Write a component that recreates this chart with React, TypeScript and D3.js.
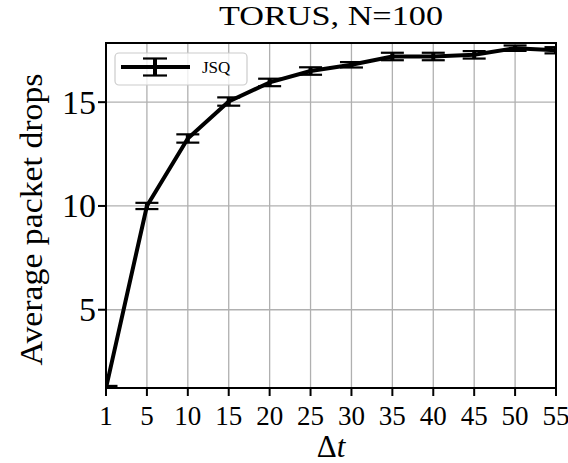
import React from "react";
import * as d3 from "d3";

const xLabels = ["1", "5", "10", "15", "20", "25", "30", "35", "40", "45", "50", "55"];
const jsqValues = [1.23, 10.0, 13.25, 15.03, 15.95, 16.5, 16.8, 17.2, 17.2, 17.28, 17.6, 17.5];
const jsqErrors = [0.1, 0.15, 0.2, 0.2, 0.18, 0.18, 0.13, 0.18, 0.18, 0.18, 0.13, 0.15];
const yTicks = [5, 10, 15];
const yDomain = [1.23, 17.85];
const title = "TORUS, N=100";
const yLabel = "Average packet drops";
const seriesName = "JSQ";

const W = 568, H = 463;
const L = 106, R = 556, T = 43, B = 388;
const FONT = "'Liberation Serif', 'DejaVu Serif', serif";

export default function App() {
  const x = d3.scalePoint<string>().domain(xLabels).range([L, R]).padding(0);
  const y = d3.scaleLinear().domain(yDomain).range([B, T]);
  const pts = xLabels.map((l, i) => ({ l, v: jsqValues[i], e: jsqErrors[i] }));
  const line = d3.line<{ l: string; v: number }>().x(d => x(d.l)!).y(d => y(d.v));
  const cap = 11.5;
  return (
    <svg width={W} height={H} style={{ position: "absolute", left: 0, top: 0, background: "#fff" }} fontFamily={FONT}>
      <defs>
        <clipPath id="ax"><rect x={L} y={T} width={R - L} height={B - T} /></clipPath>
      </defs>
      <rect x={0} y={0} width={W} height={H} fill="#fff" />
      {/* grid */}
      <g stroke="#b0b0b0" strokeWidth={1.3}>
        {xLabels.map(l => <line key={l} x1={x(l)} x2={x(l)} y1={T} y2={B} />)}
        {yTicks.map(t => <line key={t} x1={L} x2={R} y1={y(t)} y2={y(t)} />)}
      </g>
      {/* data */}
      <g clipPath="url(#ax)">
        <path d={line(pts)!} fill="none" stroke="#000" strokeWidth={4} strokeLinejoin="round" />
        {pts.map(p => {
          const cx = x(p.l)!;
          return (
            <g key={p.l} stroke="#000">
              <line x1={cx} x2={cx} y1={y(p.v - p.e)} y2={y(p.v + p.e)} strokeWidth={4} />
              <line x1={cx - cap} x2={cx + cap} y1={y(p.v - p.e)} y2={y(p.v - p.e)} strokeWidth={2.2} />
              <line x1={cx - cap} x2={cx + cap} y1={y(p.v + p.e)} y2={y(p.v + p.e)} strokeWidth={2.2} />
            </g>
          );
        })}
      </g>
      {/* axes frame */}
      <rect x={L} y={T} width={R - L} height={B - T} fill="none" stroke="#000" strokeWidth={2} />
      {/* x ticks */}
      {xLabels.map(l => (
        <g key={l}>
          <line x1={x(l)} x2={x(l)} y1={B} y2={B + 8} stroke="#000" strokeWidth={2} />
          <text x={x(l)} y={B + 37} textAnchor="middle" fontSize={27}>{l}</text>
        </g>
      ))}
      {/* y ticks */}
      {yTicks.map(t => (
        <g key={t}>
          <line x1={L - 8} x2={L} y1={y(t)} y2={y(t)} stroke="#000" strokeWidth={2} />
          <text x={L - 10} y={y(t) + 11.5} textAnchor="end" fontSize={34}>{t}</text>
        </g>
      ))}
      {/* labels */}
      <text x={(L + R) / 2} y={25} textAnchor="middle" fontSize={28} textLength={224} lengthAdjust="spacingAndGlyphs">{title}</text>
      <text transform={`translate(42, ${(T + B) / 2 + 4}) rotate(-90)`} textAnchor="middle" fontSize={31} textLength={292} lengthAdjust="spacingAndGlyphs">{yLabel}</text>
      <text x={(L + R) / 2} y={457} textAnchor="middle" fontSize={31}>Δ<tspan fontStyle="italic">t</tspan></text>
      {/* legend */}
      <g>
        <rect x={115} y={53} width={132} height={32} rx={4} fill="#fff" fillOpacity={0.8} stroke="#cccccc" strokeWidth={1.2} />
        <line x1={121} x2={190} y1={67} y2={67} stroke="#000" strokeWidth={4} />
        <line x1={155} x2={155} y1={58.5} y2={75.5} stroke="#000" strokeWidth={4} />
        <line x1={143} x2={167} y1={58.5} y2={58.5} stroke="#000" strokeWidth={2.2} />
        <line x1={143} x2={167} y1={75.5} y2={75.5} stroke="#000" strokeWidth={2.2} />
        <text x={202} y={73} fontSize={17}>{seriesName}</text>
      </g>
    </svg>
  );
}
